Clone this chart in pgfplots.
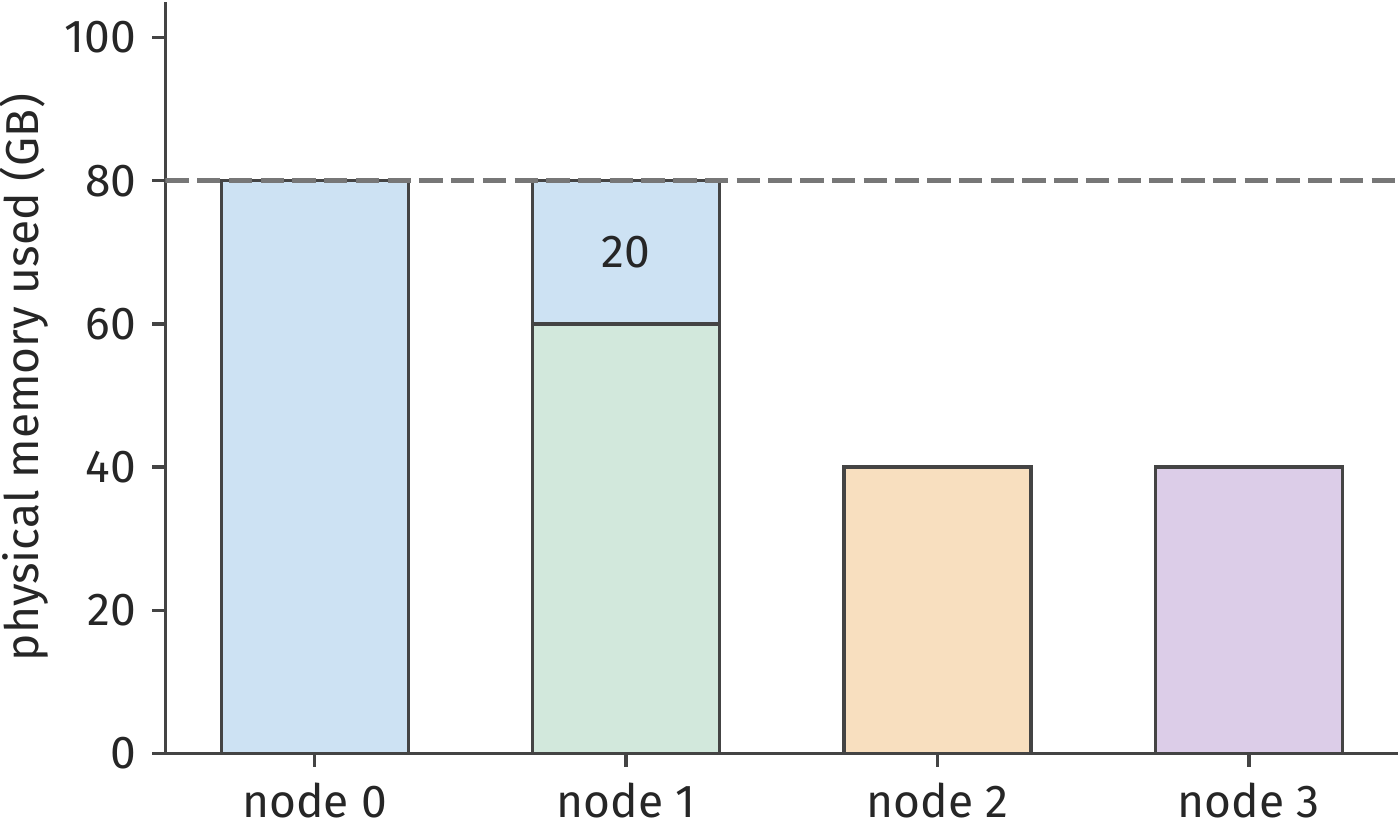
\documentclass[border=0pt]{standalone}
\usepackage{fontspec}
\setmainfont{Fira Sans}
\usepackage{pgfplots}
\pgfplotsset{compat=1.18}
\definecolor{cblue}{HTML}{CDE2F3}
\definecolor{cgreen}{HTML}{D2E8DC}
\definecolor{corange}{HTML}{F8DFBF}
\definecolor{cpurple}{HTML}{DCCDE8}
\definecolor{edge}{HTML}{444444}
\definecolor{txt}{HTML}{262626}
\definecolor{dashgray}{HTML}{777777}
\begin{document}
\fontsize{13.8pt}{16.5pt}\selectfont
\begin{tikzpicture}
\begin{axis}[
  scale only axis,
  width=369pt, height=225pt,
  xmin=-0.48, xmax=3.48,
  ymin=0, ymax=105,
  axis x line*=bottom, axis y line*=left,
  axis line style={edge, line width=1pt, -},
  tick align=outside,
  major tick length=3.9pt,
  tick style={edge, line width=1pt},
  xtick={0,1,2,3},
  xticklabels={node 0, node 1, node 2, node 3},
  ytick={0,20,40,60,80,100},
  /pgf/number format/assume math mode=true,
  ticklabel style={font=\fontsize{13.8pt}{16.5pt}\selectfont, text=txt},
  ylabel={physical memory used (GB)},
  ylabel style={font=\fontsize{13.8pt}{16.5pt}\selectfont, text=txt, inner sep=0pt},
  bar width=0.6,
  every axis plot/.append style={bar shift=0pt},
]
\addplot[ybar, fill=cblue, draw=edge, line width=1pt] coordinates {(0,80) (1,80)};
\addplot[ybar, fill=cgreen, draw=edge, line width=1pt] coordinates {(1,60)};
\addplot[ybar, fill=corange, draw=edge, line width=1pt] coordinates {(2,40)};
\addplot[ybar, fill=cpurple, draw=edge, line width=1pt] coordinates {(3,40)};
\addplot[dashgray, line width=1.5pt, dash pattern=on 7pt off 2.5pt] coordinates {(-0.48,80) (3.48,80)};
\node[text=txt, font=\fontsize{13.8pt}{16.5pt}\selectfont] at (axis cs:1,70) {20};
\end{axis}
\end{tikzpicture}
\end{document}
